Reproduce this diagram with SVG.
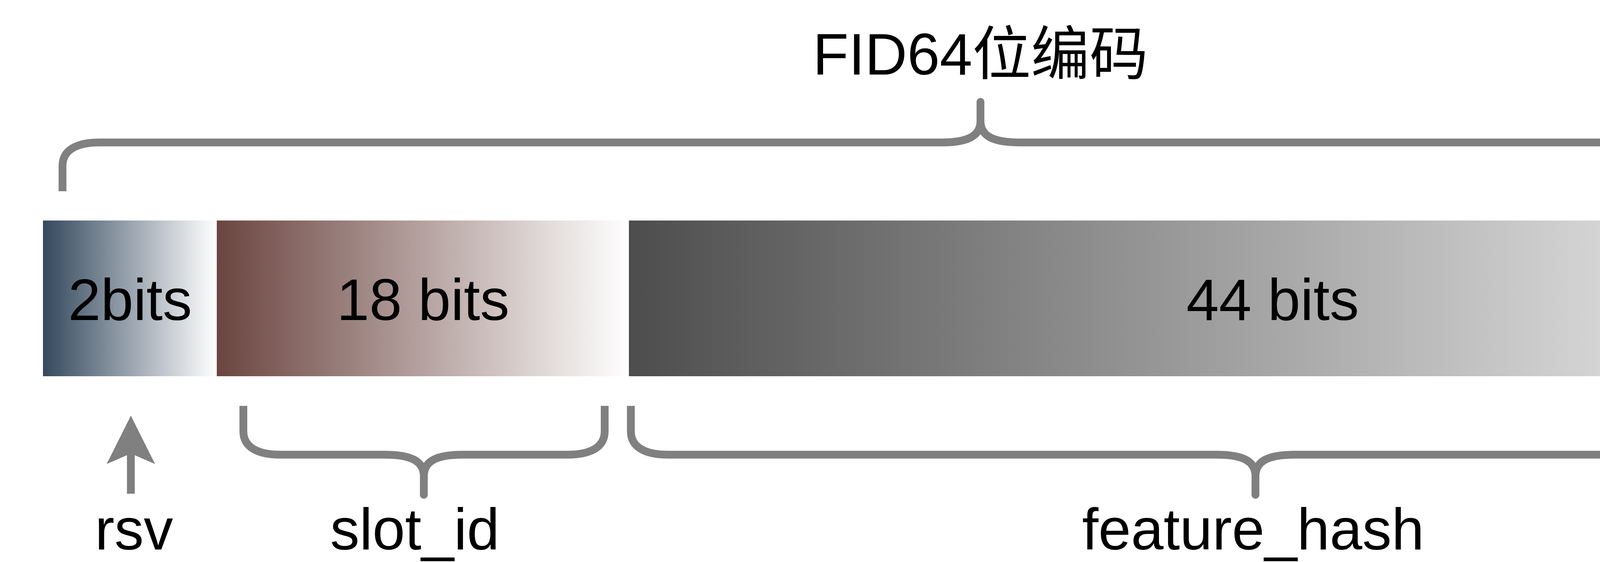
<svg xmlns="http://www.w3.org/2000/svg" width="4890" height="1440" viewBox="0 0 4890 1440">
  <defs>
    <linearGradient id="gRsv" x1="0" y1="0" x2="1" y2="0">
      <stop offset="0" stop-color="#34495e"/>
      <stop offset="1" stop-color="#ffffff"/>
    </linearGradient>
    <linearGradient id="gSlot" x1="0" y1="0" x2="1" y2="0">
      <stop offset="0" stop-color="#6b4540"/>
      <stop offset="1" stop-color="#ffffff"/>
    </linearGradient>
    <linearGradient id="gHash" x1="0" y1="0" x2="1" y2="0">
      <stop offset="0" stop-color="#4d4d4d"/>
      <stop offset="1" stop-color="#ffffff"/>
    </linearGradient>
  </defs>
  <style>
    .lbl { font-family: "Liberation Sans", Arial, "Noto Sans CJK SC", sans-serif; font-size: 150px; fill: #000000; text-anchor: middle; }
    .brace { fill: none; stroke: #808080; stroke-width: 20; stroke-linecap: butt; stroke-linejoin: round; }
    .tip { fill: none; stroke: #808080; stroke-width: 20; stroke-linecap: round; }
    .arrow { fill: #808080; }
  </style>
  <rect width="4890" height="1440" fill="#ffffff"/>

  <g id="title">
    <text class="lbl" x="2510" y="191">FID64位编码</text>
  </g>

  <g id="field-rsv">
    <rect x="110" y="565" width="445" height="399" fill="url(#gRsv)"/>
    <text class="lbl" x="333" y="820">2bits</text>
  </g>

  <g id="field-slot">
    <rect x="555" y="565" width="1055" height="399" fill="url(#gSlot)"/>
    <text class="lbl" x="1083" y="820">18 bits</text>
  </g>

  <g id="field-hash">
    <rect x="1610" y="565" width="3280" height="399" fill="url(#gHash)"/>
    <text class="lbl" x="3258" y="820">44 bits</text>
  </g>

  <g id="label-rsv">
    <text class="lbl" x="343" y="1408">rsv</text>
  </g>
  <g id="label-slot">
    <text class="lbl" x="1062" y="1408">slot_id</text>
  </g>
  <g id="label-hash">
    <text class="lbl" x="3208" y="1408">feature_hash</text>
  </g>

  <g id="connectors">
    <!-- top brace: FID64 -->
    <path class="brace" d="M160,490 L160,425 C160,385 195,365 255,365 L2410,365 C2475,365 2510,350 2510,310 C2510,350 2545,365 2610,365 L4765,365 C4825,365 4860,385 4860,425 L4860,490"/>
    <path class="tip" d="M2510,312 L2510,261"/>
    <!-- bottom brace: slot_id -->
    <path class="brace" d="M623,1040 L623,1105 C623,1145 658,1165 718,1165 L985,1165 C1050,1165 1085,1180 1085,1220 C1085,1180 1120,1165 1185,1165 L1453,1165 C1513,1165 1548,1145 1548,1105 L1548,1040"/>
    <path class="tip" d="M1085,1218 L1085,1268"/>
    <!-- bottom brace: feature_hash -->
    <path class="brace" d="M1615,1040 L1615,1105 C1615,1145 1650,1165 1710,1165 L3114,1165 C3179,1165 3214,1180 3214,1220 C3214,1180 3249,1165 3314,1165 L4719,1165 C4779,1165 4814,1145 4814,1105 L4814,1040"/>
    <path class="tip" d="M3214,1218 L3214,1268"/>
    <!-- rsv arrow -->
    <g id="arrow-rsv">
      <rect class="arrow" x="325" y="1150" width="20" height="115"/>
      <polygon class="arrow" points="335,1065 397,1189 335,1162 273,1189"/>
    </g>
  </g>
</svg>
